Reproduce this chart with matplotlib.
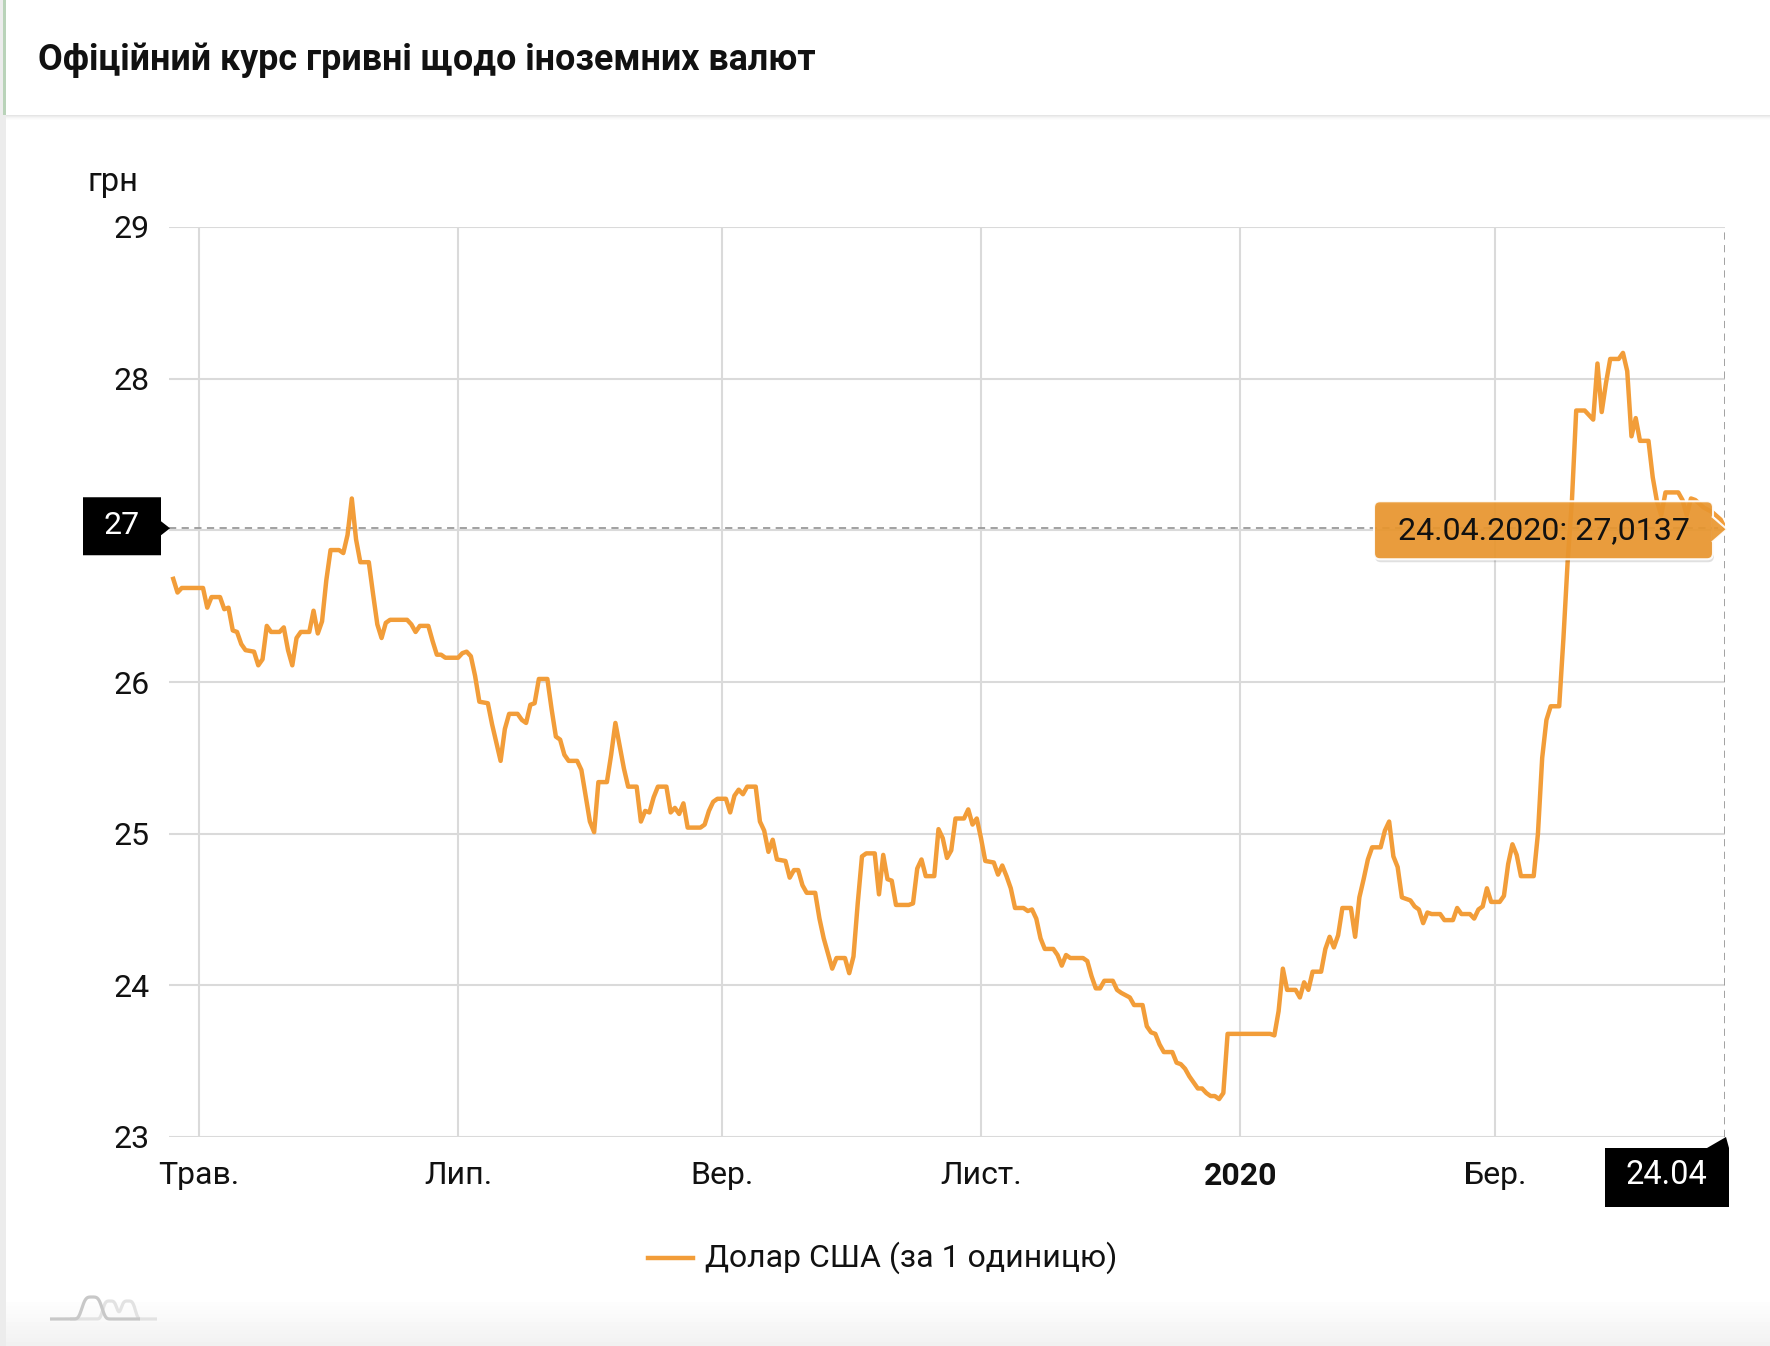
import matplotlib.pyplot as plt
import matplotlib.patches as mpatches
import matplotlib.lines as mlines
import matplotlib.dates as mdates
from matplotlib.transforms import IdentityTransform
import numpy as np
import pandas as pd

plt.rcParams['font.family'] = ['Roboto', 'DejaVu Sans']

# official UAH/USD rate, vertices of the line
dates = [
    '2019-04-25', '2019-04-26', '2019-04-27',
    '2019-05-02', '2019-05-03', '2019-05-04', '2019-05-06', '2019-05-07', '2019-05-08', '2019-05-09',
    '2019-05-10', '2019-05-11', '2019-05-12', '2019-05-14', '2019-05-15', '2019-05-16', '2019-05-17',
    '2019-05-18', '2019-05-20', '2019-05-21', '2019-05-22', '2019-05-23', '2019-05-24', '2019-05-25',
    '2019-05-27', '2019-05-28', '2019-05-29', '2019-05-30', '2019-05-31',
    '2019-06-01', '2019-06-03', '2019-06-04', '2019-06-05', '2019-06-06', '2019-06-07', '2019-06-08',
    '2019-06-10', '2019-06-11', '2019-06-12', '2019-06-13', '2019-06-14', '2019-06-15', '2019-06-19',
    '2019-06-20', '2019-06-21', '2019-06-22', '2019-06-24', '2019-06-25', '2019-06-26', '2019-06-27',
    '2019-06-28',
    '2019-07-01', '2019-07-02', '2019-07-03', '2019-07-04', '2019-07-05', '2019-07-06', '2019-07-08',
    '2019-07-09', '2019-07-10', '2019-07-11', '2019-07-12', '2019-07-13', '2019-07-15', '2019-07-16',
    '2019-07-17', '2019-07-18', '2019-07-19', '2019-07-20', '2019-07-22', '2019-07-23', '2019-07-24',
    '2019-07-25', '2019-07-26', '2019-07-27', '2019-07-29', '2019-07-30', '2019-07-31',
    '2019-08-01', '2019-08-02', '2019-08-03', '2019-08-05', '2019-08-06', '2019-08-07', '2019-08-08',
    '2019-08-09', '2019-08-10', '2019-08-12', '2019-08-13', '2019-08-14', '2019-08-15', '2019-08-16',
    '2019-08-17', '2019-08-19', '2019-08-20', '2019-08-21', '2019-08-22', '2019-08-23', '2019-08-24',
    '2019-08-27', '2019-08-28', '2019-08-29', '2019-08-30', '2019-08-31',
    '2019-09-02', '2019-09-03', '2019-09-04', '2019-09-05', '2019-09-06', '2019-09-07', '2019-09-09',
    '2019-09-10', '2019-09-11', '2019-09-12', '2019-09-13', '2019-09-14', '2019-09-16', '2019-09-17',
    '2019-09-18', '2019-09-19', '2019-09-20', '2019-09-21', '2019-09-23', '2019-09-24', '2019-09-25',
    '2019-09-26', '2019-09-27', '2019-09-28', '2019-09-30',
    '2019-10-01', '2019-10-02', '2019-10-03', '2019-10-04', '2019-10-05', '2019-10-07', '2019-10-08',
    '2019-10-09', '2019-10-10', '2019-10-11', '2019-10-12', '2019-10-15', '2019-10-16', '2019-10-17',
    '2019-10-18', '2019-10-19', '2019-10-21', '2019-10-22', '2019-10-23', '2019-10-24', '2019-10-25',
    '2019-10-26', '2019-10-28', '2019-10-29', '2019-10-30', '2019-10-31',
    '2019-11-01', '2019-11-02', '2019-11-04', '2019-11-05', '2019-11-06', '2019-11-07', '2019-11-08',
    '2019-11-09', '2019-11-11', '2019-11-12', '2019-11-13', '2019-11-14', '2019-11-15', '2019-11-16',
    '2019-11-18', '2019-11-19', '2019-11-20', '2019-11-21', '2019-11-22', '2019-11-25', '2019-11-26',
    '2019-11-27', '2019-11-28', '2019-11-29', '2019-11-30',
    '2019-12-02', '2019-12-03', '2019-12-04', '2019-12-06', '2019-12-07', '2019-12-09', '2019-12-10',
    '2019-12-11', '2019-12-12', '2019-12-13', '2019-12-14', '2019-12-16', '2019-12-17', '2019-12-18',
    '2019-12-19', '2019-12-20', '2019-12-21', '2019-12-22', '2019-12-23', '2019-12-24', '2019-12-25',
    '2019-12-26', '2019-12-27', '2019-12-28', '2019-12-29',
    '2020-01-08', '2020-01-09', '2020-01-10', '2020-01-11', '2020-01-12', '2020-01-14', '2020-01-15',
    '2020-01-16', '2020-01-17', '2020-01-18', '2020-01-20', '2020-01-21', '2020-01-22', '2020-01-23',
    '2020-01-24', '2020-01-25', '2020-01-27', '2020-01-28', '2020-01-29', '2020-01-30', '2020-01-31',
    '2020-02-01', '2020-02-03', '2020-02-04', '2020-02-05', '2020-02-06', '2020-02-07', '2020-02-08',
    '2020-02-10', '2020-02-11', '2020-02-12', '2020-02-13', '2020-02-14', '2020-02-15', '2020-02-17',
    '2020-02-18', '2020-02-20', '2020-02-21', '2020-02-22', '2020-02-24', '2020-02-25', '2020-02-26',
    '2020-02-27', '2020-02-28', '2020-02-29',
    '2020-03-02', '2020-03-03', '2020-03-04', '2020-03-05', '2020-03-06', '2020-03-07', '2020-03-10',
    '2020-03-11', '2020-03-12', '2020-03-13', '2020-03-14', '2020-03-16', '2020-03-17', '2020-03-18',
    '2020-03-19', '2020-03-20', '2020-03-22', '2020-03-23', '2020-03-24', '2020-03-25', '2020-03-26',
    '2020-03-27', '2020-03-28', '2020-03-30', '2020-03-31',
    '2020-04-01', '2020-04-02', '2020-04-03', '2020-04-04', '2020-04-06', '2020-04-07', '2020-04-08',
    '2020-04-09', '2020-04-10', '2020-04-13', '2020-04-14', '2020-04-15', '2020-04-16', '2020-04-17',
    '2020-04-19', '2020-04-21', '2020-04-23', '2020-04-24',
]
usd_rate = [
    26.68, 26.59, 26.62,
    26.62, 26.49, 26.56, 26.56, 26.48, 26.49, 26.34, 26.33, 26.25, 26.21, 26.20, 26.11, 26.15, 26.37,
    26.33, 26.33, 26.36, 26.21, 26.11, 26.29, 26.33, 26.33, 26.47, 26.32, 26.40, 26.67,
    26.87, 26.87, 26.85, 26.97, 27.21, 26.94, 26.79, 26.79, 26.58, 26.38, 26.29, 26.39, 26.41, 26.41,
    26.38, 26.33, 26.37, 26.37, 26.27, 26.18, 26.18, 26.16,
    26.16, 26.19, 26.20, 26.17, 26.04, 25.87, 25.86, 25.72, 25.60, 25.48, 25.69, 25.79, 25.79, 25.75,
    25.73, 25.85, 25.86, 26.02, 26.02, 25.82, 25.64, 25.62, 25.52, 25.48, 25.48, 25.42, 25.25,
    25.08, 25.01, 25.34, 25.34, 25.52, 25.73, 25.58, 25.43, 25.31, 25.31, 25.08, 25.15, 25.14, 25.24,
    25.31, 25.31, 25.14, 25.17, 25.13, 25.20, 25.04, 25.04, 25.06, 25.15, 25.21, 25.23,
    25.23, 25.14, 25.25, 25.29, 25.26, 25.31, 25.31, 25.08, 25.02, 24.88, 24.96, 24.83, 24.82, 24.71,
    24.76, 24.76, 24.66, 24.61, 24.61, 24.44, 24.31, 24.21, 24.11, 24.18, 24.18,
    24.08, 24.19, 24.54, 24.85, 24.87, 24.87, 24.60, 24.86, 24.70, 24.69, 24.53, 24.53, 24.54, 24.77,
    24.83, 24.72, 24.72, 25.03, 24.97, 24.84, 24.89, 25.10, 25.10, 25.16, 25.06, 25.10,
    24.97, 24.82, 24.81, 24.73, 24.79, 24.72, 24.64, 24.51, 24.51, 24.49, 24.50, 24.44, 24.31, 24.24,
    24.24, 24.20, 24.13, 24.20, 24.18, 24.18, 24.16, 24.06, 23.98, 23.98, 24.03,
    24.03, 23.97, 23.95, 23.92, 23.87, 23.87, 23.73, 23.69, 23.68, 23.61, 23.56, 23.56, 23.49, 23.48,
    23.45, 23.40, 23.36, 23.32, 23.32, 23.29, 23.27, 23.27, 23.25, 23.29, 23.68,
    23.68, 23.67, 23.83, 24.11, 23.97, 23.97, 23.92, 24.02, 23.97, 24.09, 24.09, 24.24, 24.32, 24.25,
    24.33, 24.51, 24.51, 24.32, 24.58, 24.70, 24.83,
    24.91, 24.91, 25.02, 25.08, 24.85, 24.78, 24.58, 24.56, 24.52, 24.50, 24.41, 24.48, 24.47, 24.47,
    24.43, 24.43, 24.51, 24.47, 24.47, 24.44, 24.50, 24.52, 24.64, 24.55,
    24.55, 24.59, 24.80, 24.93, 24.86, 24.72, 24.72, 25.00, 25.50, 25.75, 25.84, 25.84, 26.29, 26.80,
    27.20, 27.79, 27.79, 27.76, 27.73, 28.10, 27.78, 27.97, 28.13, 28.13, 28.17,
    28.05, 27.62, 27.74, 27.59, 27.59, 27.35, 27.19, 27.10, 27.25, 27.25, 27.20, 27.10, 27.21, 27.20,
    27.15, 27.12, 27.07, 27.0137,
]

tick_dates = ['2019-05-01', '2019-07-01', '2019-09-01', '2019-11-01', '2020-01-01', '2020-03-01']
tick_labels = ['Трав.', 'Лип.', 'Вер.', 'Лист.', '2020', 'Бер.']
y_ticks = [23, 24, 25, 26, 27, 28, 29]
x_range = ['2019-04-24', '2020-04-24']

title = 'Офіційний курс гривні щодо іноземних валют'
unit = 'грн'
series_name = 'Долар США (за 1 одиницю)'
hover_date_label = '24.04'
hover_label = '24.04.2020: 27,0137'

line_color = '#F29D39'
W, H = 1770, 1346

fig = plt.figure(figsize=(W / 100, H / 100), dpi=100)
fig.patch.set_facecolor('white')
ID = IdentityTransform()


def box(x, y, w, h, **kw):
    # rectangle given in top-left based pixels
    r = mpatches.Rectangle((x, H - y - h), w, h, transform=ID, **kw)
    fig.add_artist(r)
    return r


# page decorations
box(0, 0, 6, H, color='#ececec', lw=0, zorder=-5)
for i, a in enumerate([0.10, 0.07, 0.045, 0.025, 0.012]):
    box(6, 115 + i, W, 1, color='black', alpha=a, lw=0, zorder=-4)
box(3, 0, 3, 115, color='#b9d3b9', lw=0, zorder=-3)
for i in range(12):
    box(6, H - 48 + 4 * i, W, 4, color='#f0f0f0', alpha=0.08 * i, lw=0, zorder=-6)

fig.text(38 / W, 1 - 60 / H, title, fontsize=25.8, fontweight='bold', va='center', color='#111111')
fig.text(88 / W, 1 - 182 / H, unit, fontsize=23.5, va='center', color='#111111')

ax = fig.add_axes([169 / W, 1 - 1137 / H, 1556 / W, 910 / H])
ax.set_facecolor('none')
ax.set_xlim(pd.to_datetime(x_range[0]), pd.to_datetime(x_range[1]))
ax.set_ylim(y_ticks[0], y_ticks[-1])
for s in ax.spines.values():
    s.set_visible(False)
ax.set_yticks(y_ticks)
ax.set_yticklabels(['' if v == 27 else str(v) for v in y_ticks])
ax.set_xticks(pd.to_datetime(tick_dates))
ax.set_xticklabels(tick_labels)
ax.get_xticklabels()[tick_labels.index('2020')].set_fontweight('bold')
ax.tick_params(axis='y', length=0, pad=14, labelsize=23, labelcolor='#111111')
ax.tick_params(axis='x', length=0, pad=17, labelsize=23, labelcolor='#111111')
ax.grid(True, color='#dadada', lw=1.5)
ax.set_axisbelow(True)

x = pd.to_datetime(dates)
ax.plot(x, usd_rate, color=line_color, lw=3.2, solid_joinstyle='round', zorder=3)

# crosshair on the last value
last_x = x[-1]
last_y = usd_rate[-1]
ax.axhline(last_y, color='#9a9a9a', lw=1.3, ls=(0, (4, 3)), zorder=2)
ax.axvline(last_x, color='#9a9a9a', lw=1.3, ls=(0, (4, 3)), zorder=2)

fig.canvas.draw()
xa, ya = ax.transData.transform((mdates.date2num(last_x), last_y))
x0, y0 = ax.transAxes.transform((0, 0))

# black y label at crosshair
fig.add_artist(mpatches.Polygon(
    [(83, ya + 31), (161, ya + 31), (161, ya + 7), (x0 + 1, ya), (161, ya - 7), (161, ya - 27), (83, ya - 27)],
    closed=True, transform=ID, facecolor='black', lw=0, zorder=5))
fig.text(122, ya + 3, str(int(last_y)), transform=ID, fontsize=23, color='white',
         ha='center', va='center', zorder=6)

# black x label at crosshair
fig.add_artist(mpatches.Polygon(
    [(xa - 120, y0 - 11), (xa - 18, y0 - 11), (xa + 1, y0), (xa + 4, y0 - 11), (xa + 4, y0 - 70),
     (xa - 120, y0 - 70)],
    closed=True, transform=ID, facecolor='black', lw=0, zorder=5))
fig.text(xa - 59, y0 - 38, hover_date_label, transform=ID, fontsize=23.5, color='white',
         ha='center', va='center', zorder=6)

# tooltip
tx0, tx1 = xa - 351, xa - 12
ty0, ty1 = ya - 31, ya + 27
shadow = mpatches.FancyBboxPatch((tx0 + 1, ty0 - 3), tx1 - tx0, ty1 - ty0,
                                 boxstyle='round,pad=0,rounding_size=6', transform=ID,
                                 facecolor='black', alpha=0.12, lw=0, zorder=6)
fig.add_artist(shadow)
tip = mpatches.FancyBboxPatch((tx0, ty0), tx1 - tx0, ty1 - ty0,
                              boxstyle='round,pad=0,rounding_size=6', transform=ID,
                              facecolor='#EA972F', alpha=0.92, edgecolor='white', lw=1.5, zorder=7)
fig.add_artist(tip)
fig.add_artist(mpatches.Polygon([(tx1 - 1, ya + 12), (xa + 2, ya - 1), (tx1 - 1, ya - 14)], closed=False,
                                transform=ID, facecolor='#EA972F', alpha=0.92, edgecolor='white',
                                lw=1.5, zorder=7))
fig.text((tx0 + tx1) / 2, ya - 2, hover_label, transform=ID, fontsize=23.1, color='#111111',
         ha='center', va='center', zorder=8)

# legend
fig.add_artist(mlines.Line2D([648, 693], [H - 1258, H - 1258], transform=ID, color=line_color, lw=3.2))
fig.text(705 / W, 1 - 1258 / H, series_name, fontsize=23, va='center', color='#111111')

# logo in the lower left corner
t = np.linspace(0, 1, 200)
lx = 50 + 90 * t
ly = 1319 - 22 * np.exp(-((lx - 92) / 11) ** 4)
fig.add_artist(mlines.Line2D(lx, H - ly, transform=ID, color='#c8c8c8', lw=2.3, solid_capstyle='butt'))
lx2 = 70 + 87 * t
ly2 = 1319 - 18 * np.exp(-((lx2 - 110) / 8) ** 4) - 18 * np.exp(-((lx2 - 128) / 8) ** 4)
ly2 = np.maximum(ly2, 1301)
fig.add_artist(mlines.Line2D(lx2, H - ly2, transform=ID, color='#e2e2e2', lw=2.3, solid_capstyle='butt',
                             zorder=0.5))

fig.savefig('out.png', dpi=100)
